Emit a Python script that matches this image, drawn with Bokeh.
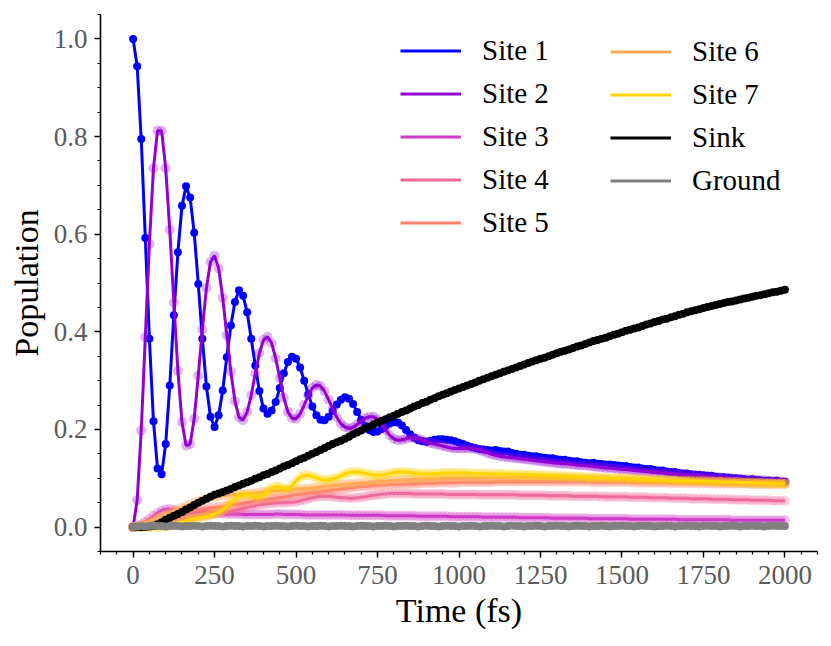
import numpy as np
from bokeh.plotting import figure
from bokeh.models import Range1d, SingleIntervalTicker, Legend, LegendItem, PrintfTickFormatter
from bokeh.embed import file_html
from bokeh.resources import INLINE

# sampling grid (fs)
time_fs = np.linspace(0, 2000, 161)

site1 = [
    1.000, 0.944, 0.795, 0.592, 0.386, 0.217, 0.120, 0.108, 0.170, 0.290,
    0.434, 0.563, 0.658, 0.698, 0.675, 0.603, 0.498, 0.386, 0.288, 0.226,
    0.205, 0.229, 0.280, 0.348, 0.413, 0.461, 0.485, 0.474, 0.440, 0.386,
    0.331, 0.279, 0.243, 0.232, 0.239, 0.256, 0.285, 0.315, 0.338, 0.349,
    0.345, 0.327, 0.300, 0.272, 0.247, 0.229, 0.220, 0.219, 0.226, 0.238,
    0.251, 0.261, 0.266, 0.263, 0.252, 0.236, 0.220, 0.207, 0.199, 0.195,
    0.196, 0.201, 0.207, 0.212, 0.215, 0.214, 0.208, 0.199, 0.190, 0.183,
    0.178, 0.176, 0.175, 0.177, 0.179, 0.180, 0.180, 0.179, 0.178, 0.176,
    0.173, 0.170, 0.167, 0.164, 0.162, 0.160, 0.159, 0.158, 0.157, 0.158,
    0.156, 0.155, 0.155, 0.152, 0.150, 0.148, 0.148, 0.146, 0.145, 0.145,
    0.143, 0.142, 0.141, 0.141, 0.139, 0.138, 0.138, 0.136, 0.135, 0.135,
    0.133, 0.132, 0.131, 0.132, 0.130, 0.129, 0.128, 0.128, 0.127, 0.126,
    0.125, 0.125, 0.123, 0.122, 0.122, 0.120, 0.119, 0.119, 0.117, 0.116,
    0.116, 0.114, 0.113, 0.113, 0.111, 0.110, 0.110, 0.108, 0.107, 0.107,
    0.106, 0.105, 0.105, 0.103, 0.102, 0.102, 0.101, 0.100, 0.100, 0.099,
    0.098, 0.097, 0.098, 0.096, 0.096, 0.095, 0.095, 0.094, 0.095, 0.093,
    0.093,
]

site2 = [
    0.000, 0.055, 0.198, 0.389, 0.580, 0.735, 0.812, 0.812, 0.735, 0.609,
    0.460, 0.320, 0.215, 0.167, 0.170, 0.222, 0.310, 0.405, 0.490, 0.543,
    0.556, 0.530, 0.470, 0.393, 0.318, 0.258, 0.225, 0.219, 0.236, 0.270,
    0.315, 0.356, 0.383, 0.390, 0.377, 0.346, 0.305, 0.265, 0.236, 0.223,
    0.222, 0.232, 0.250, 0.270, 0.285, 0.291, 0.289, 0.278, 0.261, 0.242,
    0.225, 0.212, 0.205, 0.202, 0.204, 0.210, 0.217, 0.223, 0.226, 0.226,
    0.221, 0.212, 0.199, 0.188, 0.181, 0.178, 0.179, 0.181, 0.183, 0.183,
    0.181, 0.178, 0.175, 0.172, 0.170, 0.168, 0.166, 0.164, 0.162, 0.161,
    0.161, 0.161, 0.161, 0.161, 0.160, 0.158, 0.155, 0.152, 0.149, 0.147,
    0.145, 0.144, 0.143, 0.142, 0.141, 0.140, 0.139, 0.138, 0.137, 0.136,
    0.135, 0.134, 0.133, 0.132, 0.131, 0.130, 0.130, 0.129, 0.128, 0.127,
    0.126, 0.126, 0.125, 0.124, 0.123, 0.122, 0.121, 0.121, 0.120, 0.119,
    0.118, 0.118, 0.117, 0.116, 0.115, 0.115, 0.114, 0.113, 0.112, 0.112,
    0.111, 0.110, 0.110, 0.109, 0.108, 0.108, 0.107, 0.106, 0.106, 0.105,
    0.104, 0.104, 0.103, 0.102, 0.102, 0.101, 0.101, 0.100, 0.099, 0.099,
    0.098, 0.098, 0.097, 0.097, 0.096, 0.096, 0.095, 0.095, 0.094, 0.094,
    0.093,
]

site3 = [
    0.000, 0.002, 0.006, 0.011, 0.017, 0.023, 0.029, 0.034, 0.036, 0.037,
    0.035, 0.032, 0.030, 0.029, 0.029, 0.030, 0.031, 0.032, 0.032, 0.031,
    0.030, 0.029, 0.028, 0.027, 0.027, 0.027, 0.027, 0.026, 0.026, 0.026,
    0.026, 0.026, 0.026, 0.026, 0.026, 0.027, 0.027, 0.026, 0.026, 0.026,
    0.026, 0.026, 0.025, 0.025, 0.025, 0.025, 0.025, 0.025, 0.025, 0.025,
    0.025, 0.025, 0.025, 0.024, 0.024, 0.024, 0.024, 0.024, 0.024, 0.024,
    0.024, 0.024, 0.023, 0.023, 0.023, 0.023, 0.023, 0.023, 0.023, 0.023,
    0.022, 0.022, 0.022, 0.022, 0.022, 0.022, 0.022, 0.022, 0.021, 0.021,
    0.021, 0.021, 0.021, 0.021, 0.021, 0.021, 0.020, 0.020, 0.020, 0.020,
    0.020, 0.020, 0.020, 0.020, 0.020, 0.019, 0.019, 0.019, 0.019, 0.019,
    0.019, 0.019, 0.019, 0.018, 0.018, 0.018, 0.018, 0.018, 0.018, 0.018,
    0.018, 0.018, 0.017, 0.017, 0.017, 0.017, 0.017, 0.017, 0.017, 0.017,
    0.017, 0.017, 0.016, 0.016, 0.016, 0.016, 0.016, 0.016, 0.016, 0.016,
    0.016, 0.016, 0.016, 0.016, 0.015, 0.015, 0.015, 0.015, 0.015, 0.015,
    0.015, 0.015, 0.015, 0.015, 0.015, 0.015, 0.015, 0.014, 0.014, 0.014,
    0.014, 0.014, 0.014, 0.014, 0.014, 0.014, 0.014, 0.014, 0.014, 0.014,
    0.014,
]

site4 = [
    0.000, 0.000, 0.001, 0.002, 0.003, 0.005, 0.007, 0.008, 0.010, 0.012,
    0.014, 0.016, 0.017, 0.018, 0.019, 0.021, 0.022, 0.023, 0.024, 0.026,
    0.027, 0.028, 0.029, 0.031, 0.032, 0.034, 0.036, 0.038, 0.040, 0.042,
    0.044, 0.046, 0.047, 0.048, 0.049, 0.050, 0.050, 0.050, 0.051, 0.051,
    0.052, 0.054, 0.056, 0.058, 0.060, 0.062, 0.063, 0.063, 0.063, 0.062,
    0.061, 0.060, 0.060, 0.059, 0.059, 0.060, 0.061, 0.062, 0.064, 0.065,
    0.066, 0.067, 0.068, 0.069, 0.069, 0.069, 0.069, 0.069, 0.069, 0.068,
    0.068, 0.068, 0.068, 0.068, 0.068, 0.068, 0.068, 0.067, 0.067, 0.067,
    0.067, 0.067, 0.067, 0.067, 0.067, 0.066, 0.066, 0.066, 0.066, 0.066,
    0.066, 0.066, 0.066, 0.066, 0.066, 0.065, 0.065, 0.065, 0.065, 0.065,
    0.065, 0.065, 0.064, 0.064, 0.064, 0.064, 0.064, 0.064, 0.063, 0.063,
    0.063, 0.063, 0.063, 0.063, 0.063, 0.062, 0.062, 0.062, 0.062, 0.062,
    0.062, 0.062, 0.061, 0.061, 0.061, 0.061, 0.061, 0.060, 0.060, 0.060,
    0.060, 0.060, 0.059, 0.059, 0.059, 0.059, 0.059, 0.058, 0.058, 0.058,
    0.058, 0.058, 0.057, 0.057, 0.057, 0.057, 0.057, 0.056, 0.056, 0.056,
    0.056, 0.056, 0.055, 0.055, 0.055, 0.055, 0.055, 0.054, 0.054, 0.054,
    0.054,
]

site5 = [
    0.000, 0.001, 0.003, 0.005, 0.008, 0.010, 0.013, 0.015, 0.018, 0.020,
    0.023, 0.025, 0.028, 0.030, 0.032, 0.034, 0.035, 0.036, 0.037, 0.039,
    0.040, 0.041, 0.042, 0.044, 0.045, 0.047, 0.048, 0.049, 0.050, 0.052,
    0.054, 0.055, 0.056, 0.057, 0.058, 0.059, 0.060, 0.061, 0.063, 0.065,
    0.066, 0.068, 0.069, 0.070, 0.071, 0.072, 0.073, 0.074, 0.075, 0.076,
    0.077, 0.078, 0.079, 0.080, 0.081, 0.082, 0.083, 0.083, 0.084, 0.085,
    0.085, 0.086, 0.086, 0.087, 0.087, 0.088, 0.088, 0.088, 0.089, 0.089,
    0.089, 0.090, 0.090, 0.090, 0.090, 0.091, 0.091, 0.091, 0.091, 0.091,
    0.092, 0.092, 0.092, 0.092, 0.092, 0.092, 0.092, 0.092, 0.092, 0.093,
    0.093, 0.093, 0.093, 0.093, 0.093, 0.093, 0.093, 0.093, 0.093, 0.093,
    0.093, 0.093, 0.093, 0.093, 0.093, 0.093, 0.093, 0.093, 0.093, 0.093,
    0.093, 0.093, 0.093, 0.092, 0.092, 0.092, 0.092, 0.092, 0.092, 0.092,
    0.092, 0.092, 0.092, 0.091, 0.091, 0.091, 0.091, 0.091, 0.091, 0.091,
    0.091, 0.091, 0.090, 0.090, 0.090, 0.090, 0.090, 0.090, 0.090, 0.090,
    0.090, 0.090, 0.089, 0.089, 0.089, 0.089, 0.089, 0.089, 0.089, 0.089,
    0.089, 0.089, 0.088, 0.088, 0.088, 0.088, 0.088, 0.088, 0.088, 0.088,
    0.088,
]

site6 = [
    0.000, 0.002, 0.005, 0.008, 0.012, 0.016, 0.019, 0.023, 0.027, 0.030,
    0.034, 0.037, 0.040, 0.043, 0.047, 0.050, 0.053, 0.055, 0.058, 0.060,
    0.062, 0.063, 0.064, 0.065, 0.066, 0.066, 0.067, 0.067, 0.068, 0.069,
    0.070, 0.071, 0.072, 0.073, 0.074, 0.074, 0.075, 0.076, 0.076, 0.077,
    0.078, 0.078, 0.079, 0.079, 0.080, 0.081, 0.082, 0.083, 0.084, 0.085,
    0.086, 0.087, 0.088, 0.089, 0.089, 0.090, 0.091, 0.091, 0.092, 0.092,
    0.093, 0.094, 0.094, 0.095, 0.096, 0.096, 0.097, 0.097, 0.097, 0.098,
    0.098, 0.098, 0.099, 0.099, 0.099, 0.099, 0.100, 0.100, 0.100, 0.100,
    0.101, 0.101, 0.101, 0.101, 0.101, 0.101, 0.101, 0.101, 0.101, 0.101,
    0.101, 0.101, 0.101, 0.101, 0.101, 0.101, 0.101, 0.101, 0.101, 0.101,
    0.101, 0.101, 0.101, 0.100, 0.100, 0.100, 0.100, 0.100, 0.100, 0.100,
    0.100, 0.099, 0.099, 0.099, 0.099, 0.099, 0.099, 0.098, 0.098, 0.098,
    0.098, 0.098, 0.097, 0.097, 0.097, 0.097, 0.097, 0.096, 0.096, 0.096,
    0.096, 0.095, 0.095, 0.095, 0.095, 0.095, 0.094, 0.094, 0.094, 0.094,
    0.094, 0.093, 0.093, 0.093, 0.093, 0.092, 0.092, 0.092, 0.092, 0.092,
    0.091, 0.091, 0.091, 0.091, 0.091, 0.090, 0.090, 0.090, 0.090, 0.090,
    0.090,
]

site7 = [
    0.000, 0.000, 0.000, 0.000, 0.000, 0.000, 0.000, 0.000, 0.001, 0.002,
    0.004, 0.007, 0.010, 0.013, 0.015, 0.017, 0.018, 0.020, 0.022, 0.024,
    0.027, 0.030, 0.035, 0.042, 0.050, 0.057, 0.063, 0.066, 0.066, 0.064,
    0.062, 0.062, 0.066, 0.073, 0.080, 0.083, 0.082, 0.079, 0.078, 0.085,
    0.095, 0.102, 0.106, 0.106, 0.104, 0.101, 0.098, 0.096, 0.097, 0.099,
    0.101, 0.105, 0.109, 0.112, 0.113, 0.113, 0.112, 0.110, 0.108, 0.107,
    0.106, 0.106, 0.108, 0.110, 0.112, 0.113, 0.113, 0.113, 0.112, 0.111,
    0.110, 0.109, 0.109, 0.109, 0.110, 0.110, 0.111, 0.111, 0.111, 0.111,
    0.111, 0.111, 0.111, 0.110, 0.110, 0.110, 0.110, 0.110, 0.109, 0.109,
    0.109, 0.109, 0.108, 0.108, 0.108, 0.108, 0.107, 0.107, 0.107, 0.106,
    0.106, 0.106, 0.105, 0.105, 0.105, 0.104, 0.104, 0.104, 0.103, 0.103,
    0.103, 0.102, 0.102, 0.102, 0.101, 0.101, 0.101, 0.100, 0.100, 0.100,
    0.100, 0.099, 0.099, 0.099, 0.098, 0.098, 0.098, 0.097, 0.097, 0.097,
    0.097, 0.096, 0.096, 0.096, 0.095, 0.095, 0.095, 0.095, 0.094, 0.094,
    0.094, 0.094, 0.093, 0.093, 0.093, 0.092, 0.092, 0.092, 0.092, 0.091,
    0.091, 0.091, 0.091, 0.090, 0.090, 0.090, 0.090, 0.089, 0.089, 0.089,
    0.089,
]

sink = [
    0.000, 0.000, 0.000, 0.000, 0.001, 0.003, 0.006, 0.010, 0.015, 0.019,
    0.023, 0.027, 0.031, 0.036, 0.040, 0.045, 0.050, 0.054, 0.058, 0.062,
    0.066, 0.069, 0.072, 0.075, 0.078, 0.082, 0.085, 0.089, 0.092, 0.095,
    0.099, 0.102, 0.106, 0.109, 0.113, 0.116, 0.120, 0.124, 0.127, 0.131,
    0.135, 0.139, 0.142, 0.146, 0.150, 0.154, 0.158, 0.162, 0.166, 0.170,
    0.174, 0.177, 0.181, 0.185, 0.190, 0.194, 0.198, 0.202, 0.206, 0.210,
    0.214, 0.218, 0.221, 0.225, 0.228, 0.232, 0.236, 0.239, 0.243, 0.247,
    0.250, 0.254, 0.257, 0.261, 0.264, 0.268, 0.271, 0.274, 0.278, 0.281,
    0.284, 0.287, 0.290, 0.293, 0.296, 0.300, 0.303, 0.306, 0.309, 0.312,
    0.315, 0.318, 0.321, 0.324, 0.327, 0.330, 0.333, 0.336, 0.339, 0.342,
    0.345, 0.347, 0.350, 0.353, 0.356, 0.359, 0.361, 0.364, 0.367, 0.370,
    0.372, 0.375, 0.378, 0.381, 0.383, 0.386, 0.388, 0.391, 0.394, 0.396,
    0.399, 0.402, 0.404, 0.407, 0.409, 0.412, 0.415, 0.417, 0.420, 0.422,
    0.425, 0.427, 0.430, 0.432, 0.435, 0.437, 0.440, 0.442, 0.444, 0.446,
    0.449, 0.451, 0.453, 0.455, 0.457, 0.459, 0.461, 0.462, 0.464, 0.466,
    0.468, 0.470, 0.472, 0.474, 0.475, 0.477, 0.479, 0.481, 0.482, 0.484,
    0.486,
]

ground = [
    0.000, 0.001, 0.002, 0.001, 0.002, 0.003, 0.002, 0.002, 0.001, 0.002,
    0.003, 0.002, 0.001, 0.002, 0.002, 0.003, 0.002, 0.001, 0.002, 0.003,
    0.002, 0.002, 0.001, 0.002, 0.003, 0.002, 0.002, 0.001, 0.002, 0.002,
    0.003, 0.002, 0.001, 0.002, 0.002, 0.003, 0.002, 0.002, 0.001, 0.002,
    0.003, 0.002, 0.002, 0.001, 0.002, 0.002, 0.003, 0.002, 0.001, 0.002,
    0.002, 0.003, 0.002, 0.002, 0.001, 0.002, 0.003, 0.002, 0.002, 0.001,
    0.002, 0.002, 0.003, 0.002, 0.001, 0.002, 0.002, 0.003, 0.002, 0.002,
    0.001, 0.002, 0.003, 0.002, 0.002, 0.001, 0.002, 0.003, 0.002, 0.002,
    0.001, 0.002, 0.002, 0.003, 0.002, 0.001, 0.002, 0.002, 0.003, 0.002,
    0.002, 0.001, 0.002, 0.003, 0.002, 0.002, 0.001, 0.002, 0.002, 0.003,
    0.002, 0.001, 0.002, 0.002, 0.003, 0.002, 0.002, 0.001, 0.002, 0.003,
    0.002, 0.002, 0.001, 0.002, 0.002, 0.003, 0.002, 0.001, 0.002, 0.002,
    0.003, 0.002, 0.002, 0.001, 0.002, 0.003, 0.002, 0.002, 0.001, 0.002,
    0.002, 0.003, 0.002, 0.001, 0.002, 0.002, 0.003, 0.002, 0.002, 0.001,
    0.002, 0.003, 0.002, 0.002, 0.001, 0.002, 0.002, 0.003, 0.002, 0.001,
    0.002, 0.002, 0.003, 0.002, 0.002, 0.001, 0.002, 0.003, 0.002, 0.002,
    0.002,
]

labels = ["Site 1", "Site 2", "Site 3", "Site 4", "Site 5", "Site 6", "Site 7", "Sink", "Ground"]
colors = ["#0000FF", "#9400D3", "#CF3BC8", "#EE6A9B", "#FF806E", "#FFAA55", "#FFD400", "#000000", "#808080"]
series = [site1, site2, site3, site4, site5, site6, site7, sink, ground]
opaque_markers = [True, False, False, False, False, False, False, True, True]

FONT = "Liberation Serif"

p = figure(width=821, height=638, output_backend="svg", toolbar_location=None,
           x_range=Range1d(-100, 2100), y_range=Range1d(-0.05, 1.05),
           min_border_left=100, min_border_right=4, min_border_top=14, min_border_bottom=87)
p.outline_line_color = None
p.xgrid.visible = False
p.ygrid.visible = False
p.background_fill_color = "white"

p.xaxis.ticker = SingleIntervalTicker(interval=250, num_minor_ticks=5)
p.yaxis.ticker = SingleIntervalTicker(interval=0.2, num_minor_ticks=4)
p.yaxis.formatter = PrintfTickFormatter(format="%.1f")
p.xaxis.axis_label = "Time (fs)"
p.yaxis.axis_label = "Population"

for ax in (p.xaxis, p.yaxis):
    ax.axis_line_width = 1.6
    ax.axis_line_color = "black"
    ax.major_tick_line_width = 1.4
    ax.minor_tick_line_width = 1.2
    ax.major_tick_out = 6
    ax.major_tick_in = 0
    ax.minor_tick_out = 3
    ax.minor_tick_in = 0
    ax.major_label_text_font = FONT
    ax.major_label_text_font_size = "27px"
    ax.major_label_text_color = "#5a5a5a"
    ax.axis_label_text_font = FONT
    ax.axis_label_text_font_size = "34px"
    ax.axis_label_text_font_style = "normal"
    ax.axis_label_text_color = "black"
p.yaxis.major_label_standoff = 7
p.yaxis.axis_label_standoff = 6
p.xaxis.major_label_standoff = 8
p.xaxis.axis_label_standoff = 5

line_renderers = []
for s, c, opaque in zip(series, colors, opaque_markers):
    if opaque:
        r = p.line(time_fs, s, line_color=c, line_width=3)
        p.scatter(time_fs, s, size=8, fill_color=c, line_color=None)
    else:
        p.scatter(time_fs, s, size=10, fill_color=c, fill_alpha=0.3, line_color=None)
        r = p.line(time_fs, s, line_color=c, line_width=3)
    line_renderers.append(r)

def make_legend(idx, loc):
    items = [LegendItem(label=labels[i], renderers=[line_renderers[i]]) for i in idx]
    leg = Legend(items=items, location=loc, orientation="vertical",
                 padding=0, margin=0, spacing=0,
                 glyph_width=61, glyph_height=43, label_height=43,
                 label_standoff=21,
                 label_text_font=FONT, label_text_font_size="29px",
                 label_text_color="black",
                 border_line_color=None, background_fill_alpha=0)
    return leg

p.add_layout(make_legend([0, 1, 2, 3, 4], (300, 307)), "center")
p.add_layout(make_legend([5, 6, 7, 8], (510, 349)), "center")

open("out.html", "w").write(file_html(p, INLINE))
